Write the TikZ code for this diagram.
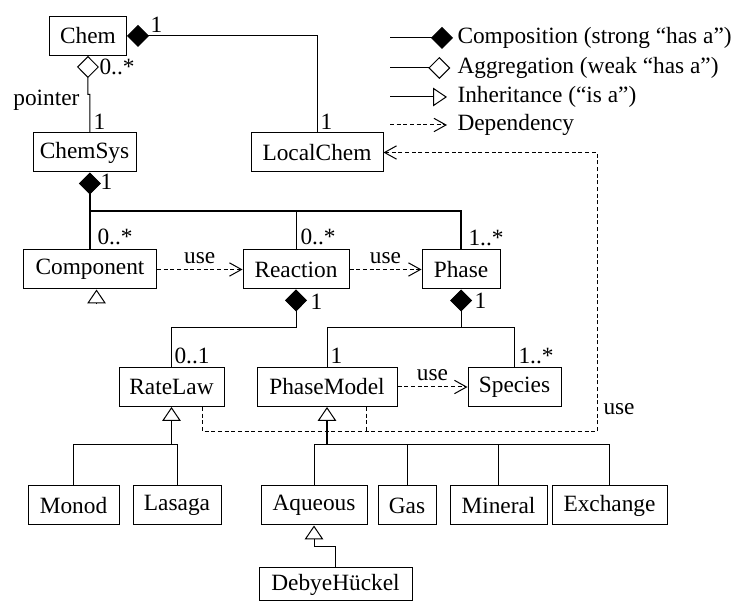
\documentclass[tikz,border=0pt]{standalone}
\usepackage{fontspec}
\setmainfont{Liberation Serif}
\usetikzlibrary{arrows.meta}

\begin{document}
\begin{tikzpicture}[x=0.75pt, y=-0.75pt, line width=0.75pt, font=\fontsize{17.5}{21}\selectfont,
        cls/.style={rectangle, draw, inner sep=2pt, minimum height=29.25pt},
        lbl/.style={anchor=base west, inner sep=0pt},
        key/.style={anchor=west, inner sep=0pt},
        comp/.style={-{Diamond[length=16.5pt, width=16.5pt, line width=0.75pt]}},
        aggr/.style={-{Diamond[open, length=16.5pt, width=16.5pt, line width=0.75pt]}},
        inh/.style={-{Triangle[open, length=10.5pt, width=14pt, line width=0.75pt]}},
        dep/.style={-{Straight Barb[length=9pt, width=10pt]}, dash pattern=on 3pt off 2pt},
        uselbl/.style={above, inner sep=4pt}]
        \useasboundingbox (0,0) rectangle (740,602);
        % classes
        \node(100) at (88,36) [cls, minimum width=57.75pt] {Chem};
        \node(110) at (84.5,152.5) [cls, minimum width=77.25pt] {ChemSys};
        \node(111) at (317,152.5) [cls, minimum width=99pt] {LocalChem};
        \node(120) at (90,269.5) [cls, minimum width=99.75pt] {Component};
        \node(121) at (296,269.5) [cls, minimum width=79.5pt] {Reaction};
        \node(122) at (461,269.5) [cls, minimum width=58.5pt] {Phase};
        \node(130) at (171.5,387) [cls, minimum width=78.75pt] {RateLaw};
        \node(131) at (327,387) [cls, minimum width=105pt] {PhaseModel};
        \node(132) at (514.5,387) [cls, minimum width=69.75pt] {Species};
        \node(140) at (73.5,505.5) [cls, minimum width=68.25pt] {Monod};
        \node(141) at (177,505.5) [cls, minimum width=66pt] {Lasaga};
        \node(142) at (314,505.5) [cls, minimum width=79.5pt] {Aqueous};
        \node(143) at (407,505.5) [cls, minimum width=43.5pt] {Gas};
        \node(144) at (498.5,505.5) [cls, minimum width=72.75pt] {Mineral};
        \node(145) at (609.5,505.5) [cls, minimum width=86.25pt] {Exchange};
        \node(150) at (335.5,584.5) [cls, minimum width=114.75pt, minimum height=24.75pt] {DebyeHückel};
        % top level
        \draw [comp] (111.north) |- (100.east);
        \draw [aggr] ([xshift=4.1pt]110.north) -- ++(0,-38) -- ++(-2,0) -- (100.south);
        \node(l1) at (150,33) [lbl] {1};
        \node(l2) at (99,75) [lbl] {0..*};
        \node(l3) at (80,106) [lbl, anchor=base east] {pointer};
        \node(l4) at (93,130) [lbl] {1};
        \node(l5) at (320,130) [lbl] {1};
        % ChemSys parts
        \coordinate (b1) at (90,211);
        \draw [comp, line width=1.3pt] (b1) -- ([xshift=4.1pt]110.south);
        \draw [line width=1pt] (120.north) -- (120.north |- b1) -| (122.north);
        \draw (121.north) -- (121.north |- b1);
        \node(l6) at (100,190) [lbl] {1};
        \node(l7) at (97,245) [lbl] {0..*};
        \node(l8) at (300,245) [lbl] {0..*};
        \node(l9) at (468,246) [lbl] {1..*};
        \draw [dep] (120) -- (121) node(u1) [midway, uselbl] {use};
        \draw [dep] (121) -- (122) node(u2) [midway, uselbl] {use};
        \draw [inh] ([xshift=4.9pt, yshift=-11pt]120.south) -- ([xshift=4.9pt]120.south);
        % Reaction and Phase parts
        \coordinate (b2) at (0,328);
        \draw [comp] (130.north) -- (130.north |- b2) -| (121.south);
        \draw (131.north) -- (131.north |- b2) -| (132.north);
        \draw [comp] (122.south |- b2) -- (122.south);
        \node(l10) at (310,310) [lbl] {1};
        \node(l11) at (474,309) [lbl] {1};
        \node(l12) at (174,364) [lbl] {0..1};
        \node(l13) at (330,364) [lbl] {1};
        \node(l14) at (518,364) [lbl] {1..*};
        \draw [dep] (131) -- (132) node(u3) [midway, uselbl] {use};
        % use of LocalChem
        \coordinate (c1) at (597,432);
        \draw [dep] ([xshift=23.6pt]130.south) |- (c1) |- (111.east);
        \draw [dash pattern=on 3pt off 2pt] ([xshift=29.25pt]131.south) -- ++(0,26);
        \node(u4) at (603,415) [lbl] {use};
        % subclasses
        \coordinate (b3) at (0,445);
        \draw [inh, line width=1.2pt] (130.south |- b3) -- (130.south);
        \draw (140.north) -- (140.north |- b3) -| (141.north);
        \draw [inh, line width=1.2pt] (131.south |- b3) -- (131.south);
        \draw (142.north) -- (142.north |- b3) -| (145.north);
        \draw (143.north) -- (143.north |- b3);
        \draw (144.north) -- (144.north |- b3);
        \draw [inh] (150.north) -- ++(0,-21) -| (142.south);
        % legend
        \node(200) at (457,38) [key] {Composition (strong “has a”)};
        \node(201) at (457,68) [key] {Aggregation (weak “has a”)};
        \node(202) at (457,97) [key] {Inheritance (“is a”)};
        \node(203) at (457,125) [key] {Dependency};
        \coordinate (k0) at (390,38);
        \coordinate (k1) at (390,68);
        \coordinate (k2) at (390,97);
        \coordinate (k3) at (390,125);
        \draw [comp] (k0) -- ([xshift=-3pt]200.west);
        \draw [aggr] (k1) -- ([xshift=-5pt]201.west);
        \draw [inh] (k2) -- ([xshift=-7.5pt]202.west);
        \draw [dep] (k3) -- ([xshift=-7.5pt]203.west);
    \end{tikzpicture}
\end{document}
